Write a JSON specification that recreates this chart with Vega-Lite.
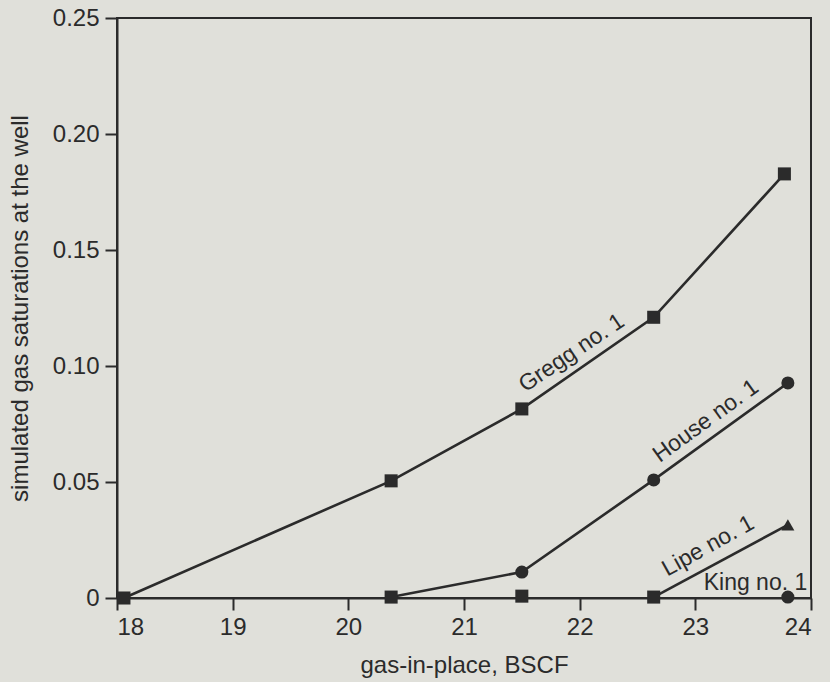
{
  "$schema": "https://vega.github.io/schema/vega-lite/v6.json",
  "autosize": "none",
  "padding": {"left": 117, "top": 18, "right": 19, "bottom": 84},
  "width": 694,
  "height": 580,
  "background": "#e0e0da",
  "config": {
    "view": {"stroke": "#2b2b2b", "strokeWidth": 2},
    "axis": {
      "grid": false,
      "domainColor": "#2b2b2b",
      "domainWidth": 2,
      "tickColor": "#2b2b2b",
      "tickWidth": 2,
      "tickSize": 12,
      "labelFont": "Liberation Sans",
      "labelFontSize": 24,
      "labelColor": "#2b2b2b",
      "titleFont": "Liberation Sans",
      "titleFontSize": 24,
      "titleFontWeight": "normal",
      "titleColor": "#2b2b2b"
    },
    "text": {"font": "Liberation Sans", "fontSize": 23, "color": "#2b2b2b"}
  },
  "datasets": {
    "wells": [
      {"well": "Gregg no. 1", "gip": 18.06, "sg": 0.0, "marker": "square"},
      {"well": "Gregg no. 1", "gip": 20.37, "sg": 0.0505, "marker": "square"},
      {"well": "Gregg no. 1", "gip": 21.5, "sg": 0.0815, "marker": "square"},
      {"well": "Gregg no. 1", "gip": 22.64, "sg": 0.121, "marker": "square"},
      {"well": "Gregg no. 1", "gip": 23.77, "sg": 0.1828, "marker": "square"},
      {"well": "House no. 1", "gip": 20.37, "sg": 0.0004, "marker": "square"},
      {"well": "House no. 1", "gip": 21.5, "sg": 0.0112, "marker": "circle"},
      {"well": "House no. 1", "gip": 22.64, "sg": 0.0509, "marker": "circle"},
      {"well": "House no. 1", "gip": 23.8, "sg": 0.0927, "marker": "circle"},
      {"well": "Lipe no. 1", "gip": 22.64, "sg": 0.0004, "marker": "square"},
      {"well": "Lipe no. 1", "gip": 23.8, "sg": 0.0315, "marker": "triangle-up"},
      {"well": "King no. 1", "gip": 21.5, "sg": 0.0008, "marker": "square"},
      {"well": "King no. 1", "gip": 23.8, "sg": 0.0004, "marker": "circle"}
    ]
  },
  "layer": [
    {
      "data": {"name": "wells"},
      "transform": [{"filter": "datum.well != 'King no. 1'"}],
      "mark": {"type": "line", "color": "#2b2b2b", "strokeWidth": 2.6},
      "encoding": {
        "x": {
          "field": "gip", "type": "quantitative",
          "scale": {"domain": [18, 24], "nice": false, "zero": false},
          "axis": {"title": "gas-in-place, BSCF", "values": [18, 19, 20, 21, 22, 23, 24], "format": "d", "labelPadding": 5, "titlePadding": 14}
        },
        "y": {
          "field": "sg", "type": "quantitative",
          "scale": {"domain": [0, 0.25], "nice": false},
          "axis": {"title": "simulated gas saturations at the well", "values": [0, 0.05, 0.1, 0.15, 0.2, 0.25], "labelExpr": "datum.value == 0 ? '0' : format(datum.value, '.2f')", "labelPadding": 6, "titlePadding": 20}
        },
        "detail": {"field": "well"}
      }
    },
    {
      "data": {"name": "wells"},
      "mark": {"type": "point", "filled": true, "opacity": 1, "color": "#2b2b2b", "size": 170},
      "encoding": {
        "x": {"field": "gip", "type": "quantitative"},
        "y": {"field": "sg", "type": "quantitative"},
        "shape": {"field": "marker", "type": "nominal", "scale": {"domain": ["square", "circle", "triangle-up"], "range": ["square", "circle", "triangle-up"]}, "legend": null}
      }
    },
    {
      "data": {"values": [{"label": "Gregg no. 1", "gip": 21.93, "sg": 0.1056}]},
      "mark": {"type": "text", "angle": 326, "align": "center", "baseline": "middle"},
      "encoding": {"x": {"field": "gip", "type": "quantitative"}, "y": {"field": "sg", "type": "quantitative"}, "text": {"field": "label"}}
    },
    {
      "data": {"values": [{"label": "House no. 1", "gip": 23.09, "sg": 0.0763}]},
      "mark": {"type": "text", "angle": 324, "align": "center", "baseline": "middle"},
      "encoding": {"x": {"field": "gip", "type": "quantitative"}, "y": {"field": "sg", "type": "quantitative"}, "text": {"field": "label"}}
    },
    {
      "data": {"values": [{"label": "Lipe no. 1", "gip": 23.11, "sg": 0.0224}]},
      "mark": {"type": "text", "angle": 331, "align": "center", "baseline": "middle"},
      "encoding": {"x": {"field": "gip", "type": "quantitative"}, "y": {"field": "sg", "type": "quantitative"}, "text": {"field": "label"}}
    },
    {
      "data": {"values": [{"label": "King no. 1", "gip": 23.52, "sg": 0.0034}]},
      "mark": {"type": "text", "align": "center", "baseline": "alphabetic"},
      "encoding": {"x": {"field": "gip", "type": "quantitative"}, "y": {"field": "sg", "type": "quantitative"}, "text": {"field": "label"}}
    }
  ]
}
